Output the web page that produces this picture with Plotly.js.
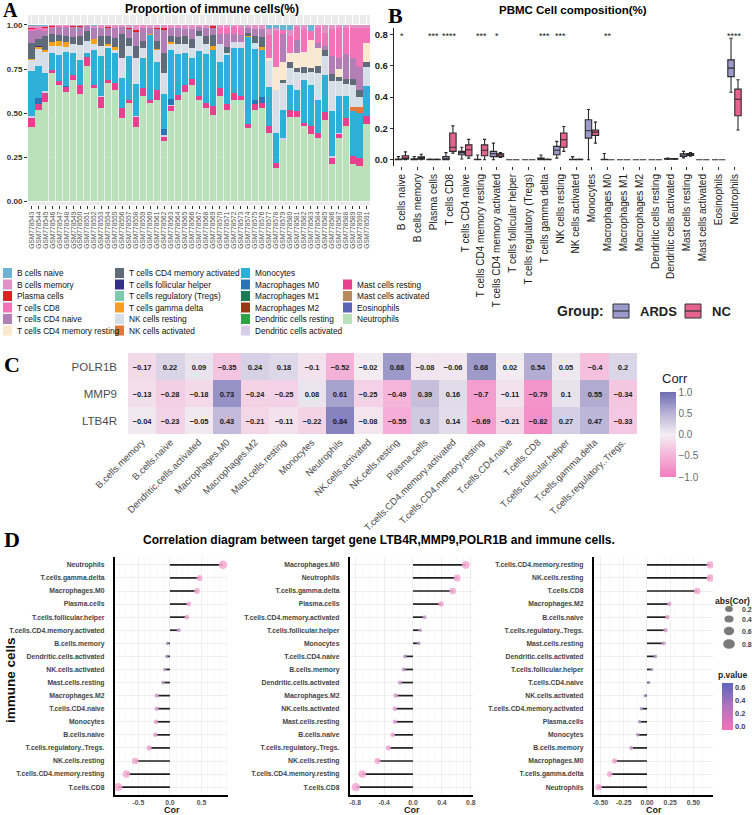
<!DOCTYPE html>
<html><head><meta charset="utf-8">
<script src="https://cdn.plot.ly/plotly-3.0.1.min.js"></script>
<style>html,body{margin:0;padding:0;background:#fff}#chart{width:752px;height:815px}</style>
</head><body><div id="chart"></div>
<script>
const W = 752, H = 815;
const px = x => x / W, py = y => 1 - y / H;

// ---------------- Panel A data ----------------
const sampleIds = ['GSM778543','GSM778544','GSM778545','GSM778546','GSM778547','GSM778548','GSM778549','GSM778550','GSM778551','GSM778552','GSM778553','GSM778554','GSM778555','GSM778556','GSM778557','GSM778558','GSM778559','GSM778560','GSM778561','GSM778562','GSM778563','GSM778564','GSM778565','GSM778566','GSM778567','GSM778568','GSM778569','GSM778570','GSM778571','GSM778572','GSM778573','GSM778574','GSM778575','GSM778576','GSM778577','GSM778578','GSM778579','GSM778580','GSM778581','GSM778582','GSM778583','GSM778584','GSM778585','GSM778586','GSM778587','GSM778588','GSM778589','GSM778590','GSM778591'];

const cellTypes = ['B cells naive','B cells memory','Plasma cells','T cells CD8','T cells CD4 naive','T cells CD4 memory resting','T cells CD4 memory activated','T cells follicular helper','T cells regulatory (Tregs)','T cells gamma delta','NK cells resting','NK cells activated','Monocytes','Macrophages M0','Macrophages M1','Macrophages M2','Dendritic cells resting','Dendritic cells activated','Mast cells resting','Mast cells activated','Eosinophils','Neutrophils'];
const cellColors = ['#6DB3D6','#E291C8','#E31E24','#F273B8','#B27EB6','#FBE8CF','#5F6B78','#35308A','#7DCBAE','#F5A21A','#D6DEE8','#E0783A','#2CB0D8','#2B74B6','#1D7A55','#963A16','#2BA344','#D7CDE9','#E8408F','#B88B5E','#5C64B8','#B9E2BB'];

const propNeutrophils = [0.42,0.52,0.565,0.73,0.66,0.62,0.69,0.61,0.77,0.64,0.53,0.67,0.63,0.475,0.555,0.42,0.60,0.555,0.575,0.34,0.51,0.575,0.62,0.66,0.575,0.53,0.49,0.595,0.52,0.575,0.575,0.415,0.52,0.53,0.385,0.19,0.35,0.48,0.48,0.425,0.38,0.36,0.46,0.21,0.36,0.43,0.215,0.2,0.44];
const propMastResting = [0.055,0.035,0.05,0.013,0.02,0.03,0.025,0.047,0.05,0.02,0.06,0.02,0.04,0.055,0.02,0.06,0.045,0.02,0.055,0.025,0.03,0.03,0.04,0.035,0.02,0.025,0.05,0.045,0.03,0.04,0.02,0.025,0.03,0.03,0.045,0.028,0,0.04,0.03,0.02,0.045,0.03,0.045,0.035,0.02,0.045,0.04,0.045,0.045];
const propDCActivated = [0.01,0,0.01,0,0,0,0,0.005,0,0,0.005,0,0,0,0,0.005,0,0,0,0.01,0.005,0,0,0,0,0,0,0,0,0,0,0,0,0,0,0,0.01,0,0,0,0,0,0,0.01,0.01,0,0,0,0];
const propMacM0 = [0,0.035,0,0,0,0.005,0,0,0,0,0,0,0,0,0,0,0,0,0,0.035,0.035,0,0,0,0,0,0,0,0,0,0,0,0.025,0.03,0,0,0,0,0,0,0,0,0,0,0,0,0,0,0];
const propMonocytes = [0.255,0.18,0.10,0.10,0.15,0.19,0.125,0.14,0.02,0.2,0.23,0.18,0.17,0.17,0.25,0.18,0.17,0.37,0.16,0.2,0.28,0.23,0.18,0.12,0.255,0.28,0.315,0.15,0.28,0.255,0.275,0.49,0.29,0.265,0.22,0.17,0.16,0.14,0.12,0.245,0.235,0.185,0.21,0.26,0.21,0.125,0.26,0.255,0.17];
const propNKActivated = [0,0,0,0,0,0,0,0,0,0,0,0,0,0,0,0,0,0,0,0,0,0,0,0,0,0,0,0,0,0,0,0,0,0,0,0,0,0,0,0,0,0,0,0,0,0,0.02,0.035,0];
const propNKResting = [0.06,0.10,0.12,0.04,0.05,0.03,0.05,0.085,0.07,0.03,0.055,0.01,0.02,0.11,0.055,0.15,0.055,0,0.065,0.12,0.03,0.055,0.05,0.055,0.085,0.055,0,0.10,0.01,0.035,0.035,0,0.03,0,0.145,0.245,0.15,0.095,0.105,0.04,0.075,0.15,0.11,0.17,0.085,0.065,0.125,0.055,0.105];
const propGammaDelta = [0.005,0.01,0.015,0.02,0.03,0.03,0,0,0,0.03,0,0.012,0.015,0,0,0,0,0.005,0.01,0,0.015,0,0,0,0,0,0.025,0,0,0,0,0.005,0,0.02,0,0,0,0,0,0,0,0,0,0,0,0,0,0,0];
const propTfh = [0,0.005,0,0,0,0,0,0,0,0,0,0,0,0,0,0,0,0,0,0,0,0,0,0,0,0,0,0,0,0,0,0,0,0,0,0,0,0,0,0,0,0,0,0,0,0,0,0,0];
const propCD4MemAct = [0.095,0.04,0.075,0.045,0.03,0.03,0.04,0.05,0.055,0,0.055,0.045,0.05,0.14,0.045,0.065,0.04,0,0.045,0.11,0.03,0.04,0.045,0.05,0.03,0.045,0.06,0,0.035,0,0,0.02,0.04,0.055,0,0,0.02,0.035,0.02,0.03,0.02,0.045,0.03,0.035,0.02,0.03,0.035,0.04,0.03];
const propCD4MemRest = [0,0,0,0,0,0,0,0,0,0,0,0,0,0,0,0,0,0,0,0,0,0,0,0,0,0,0,0,0,0,0,0,0,0,0.02,0.13,0.1,0.05,0.085,0.085,0.16,0.1,0,0,0.045,0,0,0,0.105];
const propCD4Naive = [0.065,0.05,0.03,0.035,0.05,0.055,0.055,0.05,0.03,0.065,0.045,0.045,0.055,0.04,0.05,0.08,0.07,0.035,0.065,0.13,0.045,0.05,0.04,0.055,0.025,0.045,0.045,0.06,0.075,0.045,0.04,0.03,0.04,0.045,0,0,0.16,0,0.075,0,0,0.03,0.025,0.105,0.065,0.14,0.115,0.13,0];
const propCD8 = [0.01,0.01,0.015,0.005,0.005,0.005,0.005,0,0,0,0,0,0,0,0,0,0,0,0,0,0,0,0,0,0,0,0,0.03,0.03,0.04,0.04,0,0,0,0.13,0.2,0.02,0.095,0.075,0.13,0.05,0.08,0.075,0.15,0.165,0.15,0.175,0.225,0.09];
const propPlasma = [0.005,0.005,0.01,0.004,0,0,0.005,0.005,0,0,0,0.005,0,0,0.005,0.01,0,0,0.005,0.01,0,0.005,0,0,0,0,0.01,0,0,0,0,0,0,0,0,0,0,0,0,0,0,0,0,0,0,0,0,0,0];
const propBMemory = [0.015,0.01,0.005,0.005,0.005,0.005,0.005,0.008,0.005,0.01,0.02,0.013,0.02,0.01,0.02,0.03,0.02,0.015,0.02,0.02,0.02,0.015,0.025,0.025,0.01,0.02,0.005,0.02,0.02,0.01,0.015,0.015,0.025,0.025,0.03,0.02,0,0.035,0.01,0.025,0,0.02,0.045,0.025,0.02,0.015,0.015,0.015,0.015];
const propBNaive = [0.005,0.005,0.005,0.003,0,0,0,0,0,0.005,0,0,0,0,0,0,0,0,0,0,0,0,0,0,0,0,0,0,0,0,0,0,0,0,0.025,0.017,0.03,0.03,0,0,0.035,0,0,0,0,0,0,0,0];

const propByType = {
  'B cells naive': propBNaive, 'B cells memory': propBMemory, 'Plasma cells': propPlasma,
  'T cells CD8': propCD8, 'T cells CD4 naive': propCD4Naive, 'T cells CD4 memory resting': propCD4MemRest,
  'T cells CD4 memory activated': propCD4MemAct, 'T cells follicular helper': propTfh,
  'T cells gamma delta': propGammaDelta, 'NK cells resting': propNKResting, 'NK cells activated': propNKActivated,
  'Monocytes': propMonocytes, 'Macrophages M0': propMacM0, 'Dendritic cells activated': propDCActivated,
  'Mast cells resting': propMastResting, 'Neutrophils': propNeutrophils
};

// ---------------- Panel B data ----------------
const boxCats = cellTypes;
const ardsQ1 = [0,0,0,0,0.032,0,0.02,0,0,0,0.032,0,0.138,0,0,0,0,0.003,0.021,0,0,0.53];
const ardsMed = [0.001,0.002,0,0.004,0.045,0,0.038,0,0,0.004,0.06,0,0.185,0,0,0,0,0.005,0.03,0,0,0.584];
const ardsQ3 = [0.005,0.006,0.002,0.02,0.053,0.003,0.053,0,0,0.01,0.085,0.002,0.255,0.003,0,0,0,0.007,0.038,0,0,0.637];
const ardsLow = [0,0,0,0,0.005,0,0,0,0,0,0.01,0,0,0,0,0,0,0.001,0.012,0,0,0.43];
const ardsUp = [0.02,0.02,0.005,0.045,0.08,0.03,0.106,0,0,0.03,0.117,0.02,0.32,0.04,0,0,0,0.01,0.053,0,0,0.775];
const ncQ1 = [0.004,0.004,0,0.053,0.025,0.025,0.02,0,0,0,0.08,0,0.155,0,0,0,0,0.003,0.028,0,0,0.28];
const ncMed = [0.01,0.008,0.001,0.08,0.064,0.06,0.03,0,0,0,0.127,0,0.176,0,0,0,0,0.005,0.034,0,0,0.386];
const ncQ3 = [0.025,0.018,0.003,0.17,0.095,0.095,0.038,0,0,0.002,0.17,0.003,0.19,0,0,0,0,0.007,0.04,0,0,0.45];
const ncLow = [0,0,0,0.042,0.01,0,0.015,0,0,0,0.053,0,0.106,0,0,0,0,0.002,0.022,0,0,0.19];
const ncUp = [0.05,0.035,0.005,0.216,0.13,0.13,0.045,0,0,0.005,0.212,0.005,0.24,0,0,0,0,0.008,0.045,0,0,0.51];
const sigCats = ['B cells naive','Plasma cells','T cells CD8','T cells CD4 memory resting','T cells CD4 memory activated','T cells gamma delta','NK cells resting','Macrophages M0','Neutrophils'];
const sigStars = ['*','***','****','***','*','***','***','**','****'];

// ---------------- Panel C data ----------------
const heatCols = ['B.cells.memory','B.cells.naive','Dendritic.cells.activated','Macrophages.M0','Macrophages.M2','Mast.cells.resting','Monocytes','Neutrophils','NK.cells.activated','NK.cells.resting','Plasma.cells','T.cells.CD4.memory.activated','T.cells.CD4.memory.resting','T.cells.CD4.naive','T.cells.CD8','T.cells.follicular.helper','T.cells.gamma.delta','T.cells.regulatory..Tregs.'];
const genes = ['LTB4R','MMP9','POLR1B'];
const corrPOLR1B = [-0.17,0.22,0.09,-0.35,0.24,0.18,-0.1,-0.52,-0.02,0.68,-0.08,-0.06,0.68,0.02,0.54,0.05,-0.4,0.2];
const corrMMP9 = [-0.13,-0.28,-0.18,0.73,-0.24,-0.25,0.08,0.61,-0.25,-0.49,0.39,0.16,-0.7,-0.11,-0.79,0.1,0.55,-0.34];
const corrLTB4R = [-0.04,-0.23,-0.05,0.43,-0.21,-0.11,-0.22,0.84,-0.08,-0.55,0.3,0.14,-0.69,-0.21,-0.82,0.27,0.47,-0.33];

// ---------------- Panel D order ----------------
const orderLTB4R = ['Neutrophils','T.cells.gamma.delta','Macrophages.M0','Plasma.cells','T.cells.follicular.helper','T.cells.CD4.memory.activated','B.cells.memory','Dendritic.cells.activated','NK.cells.activated','Mast.cells.resting','Macrophages.M2','T.cells.CD4.naive','Monocytes','B.cells.naive','T.cells.regulatory..Tregs.','NK.cells.resting','T.cells.CD4.memory.resting','T.cells.CD8'];
const orderMMP9 = ['Macrophages.M0','Neutrophils','T.cells.gamma.delta','Plasma.cells','T.cells.CD4.memory.activated','T.cells.follicular.helper','Monocytes','T.cells.CD4.naive','B.cells.memory','Dendritic.cells.activated','Macrophages.M2','NK.cells.activated','Mast.cells.resting','B.cells.naive','T.cells.regulatory..Tregs.','NK.cells.resting','T.cells.CD4.memory.resting','T.cells.CD8'];
const orderPOLR1B = ['T.cells.CD4.memory.resting','NK.cells.resting','T.cells.CD8','Macrophages.M2','B.cells.naive','T.cells.regulatory..Tregs.','Mast.cells.resting','Dendritic.cells.activated','T.cells.follicular.helper','T.cells.CD4.naive','NK.cells.activated','T.cells.CD4.memory.activated','Plasma.cells','Monocytes','B.cells.memory','Macrophages.M0','T.cells.gamma.delta','Neutrophils'];
const absLegend = [0.2,0.4,0.6,0.8];
const pTicks = [0,0.2,0.4,0.6];

// ================= build =================
const FONT = 'Liberation Sans, Arial, sans-serif';
const traces = [];
const colorOf = {};
cellTypes.forEach((c,i)=>colorOf[c]=cellColors[i]);

// A: stacked bars, bottom first
cellTypes.slice().reverse().forEach(name=>{
  if(!propByType[name]) return;
  traces.push({type:'bar', x: sampleIds, y: propByType[name], name, xaxis:'x', yaxis:'y',
    marker:{color: colorOf[name], line:{width:0}}, hoverinfo:'skip', showlegend:false});
});

// B: boxes
const boxLine = {color:'#2b2b2b', width:1.1};
traces.push({type:'box', name:'ARDS', x: boxCats, q1: ardsQ1, median: ardsMed, q3: ardsQ3, lowerfence: ardsLow, upperfence: ardsUp,
  xaxis:'x2', yaxis:'y2', fillcolor:'#9C9ACB', line: boxLine, boxpoints:false, showlegend:false, offsetgroup:'a'});
traces.push({type:'box', name:'NC', x: boxCats, q1: ncQ1, median: ncMed, q3: ncQ3, lowerfence: ncLow, upperfence: ncUp,
  xaxis:'x2', yaxis:'y2', fillcolor:'#E6638F', line: boxLine, boxpoints:false, showlegend:false, offsetgroup:'b'});

// C: heatmap
const heatZ = [corrLTB4R, corrMMP9, corrPOLR1B];
const fmt = v => (v<0?'\u2212':'') + String(Math.abs(v));
const heatText = heatZ.map(r=>r.map(fmt));
traces.push({type:'heatmap', x: heatCols, y: genes, z: heatZ, text: heatText, texttemplate:'%{text}',
  textfont:{size:7.5, color:'#1a1a1a', weight:'bold', family: FONT},
  colorscale:[[0,'#F27CC0'],[0.25,'#F5B4D9'],[0.5,'#F2EEF2'],[0.75,'#B9B2D6'],[1,'#6C6CB2']], zmin:-1, zmax:1,
  xaxis:'x3', yaxis:'y3', hoverinfo:'skip',
  colorbar:{x: px(660), xanchor:'left', xref:'paper', y: py(434.5), yanchor:'middle', yref:'paper', len: 85, lenmode:'pixels',
    thickness: 16, outlinewidth:0, ypad:0, xpad:0, ticks:'', tickvals:[-1,-0.5,0,0.5,1], ticktext:['\u22121.0','\u22120.5','0.0','0.5','1.0'],
    tickfont:{size:10, color:'#6a6a6a', family: FONT}}});

// D: lollipops
const corrByGene = {LTB4R: corrLTB4R, MMP9: corrMMP9, POLR1B: corrPOLR1B};
const dPanels = [['LTB4R', orderLTB4R, 'x4','y4'], ['MMP9', orderMMP9, 'x5','y5'], ['POLR1B', orderPOLR1B, 'x6','y6']];
const sizeOf = v => 3 + 6.5*Math.abs(v);
dPanels.forEach(([g, order, xa, ya])=>{
  const vals = order.map(c=>corrByGene[g][heatCols.indexOf(c)]);
  const sx=[], sy=[];
  order.forEach((c,i)=>{ sx.push(0, vals[i], null); sy.push(c, c, null); });
  traces.push({type:'scatter', mode:'lines', x: sx, y: sy, xaxis: xa, yaxis: ya,
    line:{color:'#1f1f1f', width:1.7}, hoverinfo:'skip', showlegend:false});
  traces.push({type:'scatter', mode:'markers', x: vals, y: order, xaxis: xa, yaxis: ya, hoverinfo:'skip', showlegend:false,
    marker:{size: vals.map(sizeOf), color: vals.map(v=>Math.abs(v)), cmin:0, cmax:1,
      colorscale:[[0,'#9488BC'],[0.15,'#C59BCB'],[0.3,'#F1A8D2'],[1,'#F5A8D2']], opacity:0.85, line:{width:0}}});
});
// p.value colour bar (points lie outside the visible range)
traces.push({type:'scatter', mode:'markers', x:[5,5,5,5], y:[orderPOLR1B[0],orderPOLR1B[0],orderPOLR1B[0],orderPOLR1B[0]], xaxis:'x6', yaxis:'y6',
  hoverinfo:'skip', showlegend:false,
  marker:{color: pTicks, cmin:-0.05, cmax:0.68, colorscale:[[0,'#F472B8'],[0.5,'#B273BF'],[1,'#5F66BE']], showscale:true,
    colorbar:{x: px(722), xanchor:'left', y: py(706), yanchor:'middle', len:47, lenmode:'pixels', thickness:11, outlinewidth:0, ypad:0, xpad:0,
      ticks:'', tickvals: pTicks, ticktext: pTicks.map(v=>v.toFixed(1)), tickfont:{size:7.5, color:'#444', weight:'bold', family: FONT}}}});

// ================= layout =================
const annotations = [];
const shapes = [];
const ann = (x,y,text,opt={}) => annotations.push(Object.assign({xref:'paper', yref:'paper', x:px(x), y:py(y), text, showarrow:false,
  xanchor:'center', yanchor:'middle', font:{family: FONT, size:10, color:'#1a1a1a'}}, opt));

// panel letters
const letterFont = {family:'Liberation Serif, Times New Roman, serif', size:22, color:'#000', weight:'bold'};
ann(1,10,'A',{xanchor:'left', font:Object.assign({}, letterFont, {size:20})});
ann(386,16,'B',{xanchor:'left', font:letterFont});
ann(2,364,'C',{xanchor:'left', font:letterFont});
ann(2,539,'D',{xanchor:'left', font:letterFont});

// titles
ann(212,9,'Proportion of immune cells(%)',{font:{family:FONT, size:12, weight:'bold', color:'#000'}});
ann(573,10,'PBMC Cell composition(%)',{font:{family:FONT, size:11.5, weight:'bold', color:'#000'}});
ann(379,540,'Correlation diagram between target gene LTB4R,MMP9,POLR1B and immune cells.',{font:{family:FONT, size:12, weight:'bold', color:'#000'}});

// Panel A background
shapes.push({type:'rect', xref:'paper', yref:'paper', x0:px(28), x1:px(370), y0:py(205), y1:py(15), fillcolor:'#EBEBEB', line:{width:0}, layer:'below'});

// Panel A legend
const colX = [3,115,241,343];
const rowY = [273,284.5,296,307.5,319,330.5];
const colStart = [0,6,12,18];
const legendFont = {family: FONT, size:8.3, color:'#111'};
cellTypes.forEach((name,i)=>{
  let col = i<6?0:(i<12?1:(i<18?2:3));
  let row = i - colStart[col] + (col===3?1:0);
  const x = colX[col], y = rowY[row];
  shapes.push({type:'rect', xref:'paper', yref:'paper', x0:px(x), x1:px(x+9), y0:py(y+5), y1:py(y-5), fillcolor: cellColors[i], line:{width:0}});
  ann(x+12, y, name, {xanchor:'left', font: legendFont});
});

// Panel B stars
sigCats.forEach((c,i)=>annotations.push({xref:'x2', yref:'y2', x:c, y:0.79, text:sigStars[i], showarrow:false,
  xanchor:'center', yanchor:'middle', font:{family:FONT, size:9, color:'#222'}}));
// Panel B group legend
ann(555,311,'Group:',{xanchor:'left', font:{family:FONT, size:14, weight:'bold', color:'#222'}});
[['ARDS','#9C9ACB',613,638],['NC','#E6638F',685,710]].forEach(([t,col,x0,tx])=>{
  shapes.push({type:'rect', xref:'paper', yref:'paper', x0:px(x0), x1:px(x0+16), y0:py(318), y1:py(304), fillcolor:col, line:{color:'#333', width:1}});
  shapes.push({type:'line', xref:'paper', yref:'paper', x0:px(x0), x1:px(x0+16), y0:py(311), y1:py(311), line:{color:'#333', width:1.2}});
  ann(tx,311,t,{xanchor:'left', font:{family:FONT, size:13, weight:'bold', color:'#222'}});
});

// Panel C colorbar title
ann(660,378,'Corr',{xanchor:'left', font:{family:FONT, size:13, color:'#222'}});

// Panel D labels
ann(10,680,'immune cells',{textangle:-90, font:{family:FONT, size:13.5, weight:'bold', color:'#111'}});
const corFont = {family:FONT, size:9, weight:'bold', color:'#222'};
ann(172,810,'Cor',{font:corFont});
ann(412,810,'Cor',{font:corFont});
ann(654,810,'Cor',{font:corFont});
ann(713,601,'abs(Cor)',{xanchor:'left', font:{family:FONT, size:8.5, weight:'bold', color:'#222'}});
ann(716,675,'p.value',{xanchor:'left', font:{family:FONT, size:8.5, weight:'bold', color:'#222'}});
const absY = [609,619,631,644];
absLegend.forEach((v,i)=>{
  const d = sizeOf(v)+1.5, cx = 729, cy = absY[i];
  shapes.push({type:'circle', xref:'paper', yref:'paper', x0:px(cx-d/2-1), x1:px(cx+d/2+1), y0:py(cy+d/2), y1:py(cy-d/2), fillcolor:'#7a7a7a', line:{width:0}});
  ann(740,cy,v.toFixed(1),{xanchor:'left', font:{family:FONT, size:7, weight:'bold', color:'#444'}});
});

const dAxisX = (x0,x1,range,tickvals,ticktext)=>({domain:[px(x0),px(x1)], range, tickvals, ticktext, anchor:null,
  showline:true, linecolor:'#000', linewidth:2.2, zeroline:false, showgrid:true, gridcolor:'#EBEBEB', gridwidth:0.8,
  minor:{showgrid:true, gridcolor:'#F5F5F5', gridwidth:0.6}, ticks:'', ticklabelstandoff:0, tickfont:{family:FONT, size:6.8, color:'#555', weight:'bold'}, fixedrange:true});
const dAxisY = ()=>({domain:[py(795),py(557)], type:'category', range:[17.6,-0.6], showline:true, linecolor:'#000', linewidth:2.2,
  zeroline:false, showgrid:true, gridcolor:'#EBEBEB', gridwidth:0.8, ticks:'', ticklabelstandoff:7,
  tickfont:{family:FONT, size:6.8, color:'#444', weight:'bold'}});

const xa4 = dAxisX(115,228,[-0.87,0.92],[-0.5,0,0.5],['-0.5','0.0','0.5']); xa4.anchor='y4';
const xa5 = dAxisX(350,473,[-0.87,0.83],[-0.8,-0.4,0,0.4,0.8],['-0.8','-0.4','0.0','0.4','0.8']); xa5.anchor='y5';
const xa6 = dAxisX(594,713,[-0.57,0.71],[-0.5,-0.25,0,0.25,0.5],['-0.50','-0.25','0.00','0.25','0.50']); xa6.anchor='y6';
const ya4 = dAxisY(); ya4.anchor='x4'; ya4.categoryorder='array'; ya4.categoryarray=orderLTB4R;
const ya5 = dAxisY(); ya5.anchor='x5'; ya5.categoryorder='array'; ya5.categoryarray=orderMMP9;
const ya6 = dAxisY(); ya6.anchor='x6'; ya6.categoryorder='array'; ya6.categoryarray=orderPOLR1B;

const layout = {
  width: W, height: H, margin:{l:0,r:0,t:0,b:0}, paper_bgcolor:'#fff', plot_bgcolor:'rgba(0,0,0,0)',
  font:{family: FONT, color:'#222'}, showlegend:false,
  barmode:'stack', barnorm:'fraction', bargap:0.13,
  boxmode:'group', boxgap:0.12, boxgroupgap:0.08,
  xaxis:{domain:[px(28),px(370)], anchor:'y', type:'category', tickmode:'linear', tick0:0, dtick:1, tickangle:-90, ticks:'outside', ticklen:3, tickcolor:'#333',
    tickfont:{size:6.6, color:'#4D4D4D', family: FONT}, showgrid:true, gridcolor:'#fff', gridwidth:1, zeroline:false, showline:false},
  yaxis:{domain:[py(205),py(15)], anchor:'x', range:[-0.02,1.056], tickvals:[0,0.25,0.5,0.75,1], ticktext:['0.00','0.25','0.50','0.75','1.00'],
    ticks:'outside', ticklen:3, tickcolor:'#333', tickfont:{size:8, color:'#333', weight:'bold', family: FONT}, showgrid:true, gridcolor:'#fff', zeroline:false, showline:false},
  xaxis2:{domain:[px(394),px(744)], anchor:'y2', type:'category', categoryorder:'array', categoryarray: boxCats, tickangle:-90,
    ticks:'outside', ticklen:3, tickcolor:'#333', tickfont:{size:10, color:'#1a1a1a', family: FONT}, showgrid:false, zeroline:false, showline:false},
  yaxis2:{domain:[py(166),py(28)], anchor:'x2', range:[-0.04,0.84], tickvals:[0,0.2,0.4,0.6,0.8], ticktext:['0.0','0.2','0.4','0.6','0.8'],
    ticks:'outside', ticklen:3, tickcolor:'#333', tickfont:{size:9.5, color:'#1a1a1a', weight:'bold', family: FONT},
    showline:true, linecolor:'#222', linewidth:1.2, showgrid:false, zeroline:false},
  xaxis3:{domain:[px(128),px(637)], anchor:'y3', type:'category', tickangle:-45, ticks:'', tickfont:{size:9.5, color:'#4D4D4D', family: FONT},
    showgrid:false, zeroline:false, showline:false},
  yaxis3:{domain:[py(434),py(353)], anchor:'x3', type:'category', ticks:'', ticklabelstandoff:10, tickfont:{size:11.5, color:'#4D4D4D', family: FONT},
    showgrid:false, zeroline:false, showline:false},
  xaxis4: xa4, yaxis4: ya4, xaxis5: xa5, yaxis5: ya5, xaxis6: xa6, yaxis6: ya6,
  annotations, shapes
};

Plotly.newPlot('chart', traces, layout, {staticPlot:true, displayModeBar:false});
</script>
</body></html>
